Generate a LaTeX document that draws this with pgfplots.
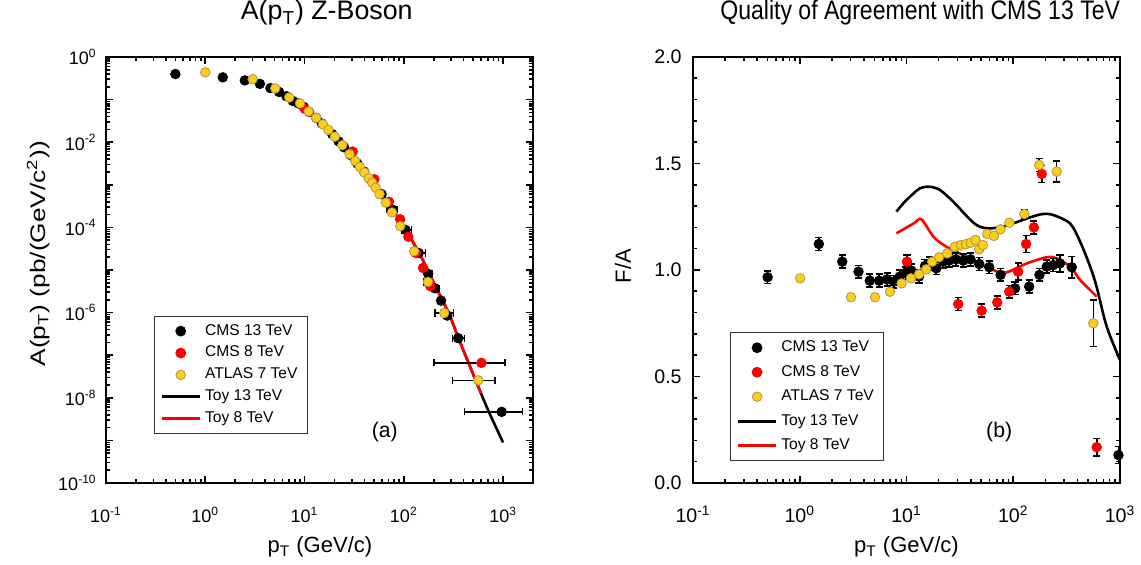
\documentclass[border=0pt]{standalone}
\usepackage{fontspec}
\setmainfont{Liberation Sans}
\usepackage{graphicx}
\usepackage{pgfplots}
\pgfplotsset{compat=1.18}
\definecolor{atlasY}{RGB}{252,206,22}
\definecolor{atlasE}{RGB}{175,150,80}
\definecolor{cmsR}{RGB}{255,0,0}

\pgfplotsset{
  common/.style={
    scale only axis, width=213.5pt, height=213pt, anchor=south west,
    axis line style={line width=1.1pt},
    every tick/.style={black, line width=0.8pt},
    major tick length=3.5pt, minor tick length=2.2pt,
    tick align=inside, xtick pos=both, ytick pos=both,
    legend cell align=left,
    legend image code/.code={\draw[mark repeat=2,mark phase=2,##1] plot coordinates {(0pt,0pt) (9.5pt,0pt) (19pt,0pt)};},
    legend style={font=\fontsize{7.8}{9}\selectfont, draw=black!80, line width=0.6pt, inner xsep=3pt, inner ysep=2pt, anchor=north west},
    xticklabel style={anchor=base, yshift=-20pt},
    tick label style={font=\fontsize{9}{10}\selectfont},
    xlabel style={anchor=base, font=\fontsize{11}{13}\selectfont},
    title style={anchor=base, font=\fontsize{13.4}{15}\selectfont},
    error bars/error bar style={line width=0.8pt, black},
    error bars/error mark options={rotate=90, line width=0.8pt, black, mark size=1.8pt},
  },
  blk/.style={only marks, mark=*, mark size=2.4pt, mark options={fill=black, draw=black}},
  red/.style={only marks, mark=*, mark size=2.4pt, mark options={fill=cmsR, draw=cmsR}},
  yel/.style={only marks, mark=*, mark size=2.4pt, mark options={fill=atlasY, draw=atlasE, line width=0.4pt}},
}

\begin{document}
\begin{tikzpicture}
\useasboundingbox (0pt,0pt) rectangle (570.5pt,282.5pt);
%%%%%%%%%%%%%%%% LEFT %%%%%%%%%%%%%%%%
\begin{axis}[common, at={(53pt,41pt)},
  xmode=log, ymode=log,
  xmin=0.1, xmax=2000, ymin=1e-10, ymax=1,
  xtick={0.1,1,10,100,1000},
  xticklabels={10\textsuperscript{-1},10\textsuperscript{0},10\textsuperscript{1},10\textsuperscript{2},10\textsuperscript{3}},
  minor xtick={0.2,0.3,0.4,0.5,0.6,0.7,0.8,0.9,2,3,4,5,6,7,8,9,20,30,40,50,60,70,80,90,200,300,400,500,600,700,800,900,2000},
  ytick={1e-10,1e-9,1e-8,1e-7,1e-6,1e-5,1e-4,1e-3,1e-2,1e-1,1},
  yticklabels={10\textsuperscript{-10},,10\textsuperscript{-8},,10\textsuperscript{-6},,10\textsuperscript{-4},,10\textsuperscript{-2},,10\textsuperscript{0}},
  minor ytick={2e-10,3e-10,4e-10,5e-10,6e-10,7e-10,8e-10,9e-10,
    2e-9,3e-9,4e-9,5e-9,6e-9,7e-9,8e-9,9e-9,
    2e-8,3e-8,4e-8,5e-8,6e-8,7e-8,8e-8,9e-8,
    2e-7,3e-7,4e-7,5e-7,6e-7,7e-7,8e-7,9e-7,
    2e-6,3e-6,4e-6,5e-6,6e-6,7e-6,8e-6,9e-6,
    2e-5,3e-5,4e-5,5e-5,6e-5,7e-5,8e-5,9e-5,
    2e-4,3e-4,4e-4,5e-4,6e-4,7e-4,8e-4,9e-4,
    2e-3,3e-3,4e-3,5e-3,6e-3,7e-3,8e-3,9e-3,
    2e-2,3e-2,4e-2,5e-2,6e-2,7e-2,8e-2,9e-2,
    0.2,0.3,0.4,0.5,0.6,0.7,0.8,0.9},
  yticklabel style={anchor=east, inner sep=0pt, xshift=-4.5pt},
  xlabel={p\textsubscript{T} (GeV/c)},
  xlabel style={at={(axis description cs:0.501,-0.164)}},
  ylabel={\scalebox{1.25}[1]{A(p\textsubscript{T}) (pb/(GeV/c\textsuperscript{2}))}},
  ylabel style={at={(axis description cs:-0.159,0.538)}, anchor=center, font=\fontsize{10.5}{12}\selectfont},
  title={A(p\textsubscript{T}) Z-Boson},
  title style={at={(axis description cs:0.517,1.059)}},
  legend style={at={(0.112,0.393)}},
]
% toy lines
\addplot[black, line width=1.3pt, smooth, forget plot] coordinates {
(8,0.0871) (10,0.0631) (15,0.0263) (20,0.0135) (30,0.00479) (40,0.002) (50,0.00105)
(70,3.55e-4) (100,1.05e-4) (150,2.0e-5) (200,5.0e-6) (250,1.78e-6) (300,7.08e-7)
(355,2.51e-7) (500,3.55e-8) (700,5.37e-9) (1000,8.91e-10)};
\addplot[cmsR, line width=1.3pt, smooth, forget plot] coordinates {
(8,0.0871) (10,0.0631) (15,0.0263) (20,0.0135) (30,0.00479) (40,0.002) (50,0.00105)
(70,3.55e-4) (100,1.05e-4) (150,2.0e-5) (200,5.0e-6) (250,1.78e-6) (300,7.08e-7)
(355,2.51e-7) (500,3.55e-8) (600,1.26e-8)};
% CMS 13 TeV
\addplot[blk, error bars/.cd, x dir=both, x explicit] coordinates {
(0.5,0.398) (1.5,0.333) (2.5,0.282) (3.55,0.234) (4.53,0.186) (5.54,0.151) (6.58,0.120)
(7.6,0.0933) (8.65,0.0813) (9.8,0.0676) (11.1,0.0513) (13.1,0.0372) (14.9,0.0275)
(19,0.0155) (22,0.0105) (25,0.00759) (29,0.00501) (34,0.00316) (39.8,0.00204) (48,0.00117)
(59.6,6.03e-4) += (5.4,0) -= (4.6,0)
(76,2.63e-4) += (9,0) -= (8,0)
(104,8.71e-5) += (16,0) -= (9,0)
(141,2.51e-5) += (24,0) -= (16,0)
(176,8.13e-6) += (19,0) -= (11,0)
(206,3.72e-6) += (19,0) -= (11,0)
(237,1.91e-6) += (18,0) -= (12,0)
(274,8.51e-7) += (26,0) -= (19,0)
(353,2.51e-7) += (55,0) -= (43,0)
(967,4.68e-9) += (600,0) -= (560,0)};
\addlegendentry{CMS 13 TeV}
% CMS 8 TeV
\addplot[red, error bars/.cd, x dir=both, x explicit] coordinates {
(10.1,0.0603) (30.5,0.00603) (50.5,0.00135) (70.8,3.98e-4) (91.8,1.55e-4)
(111,6.03e-5) (132,2.51e-5) (156,1.12e-5) (185,4.17e-6)
(605,6.61e-8) += (445,0) -= (405,0)};
\addlegendentry{CMS 8 TeV}
% ATLAS 7 TeV
\addplot[yel, error bars/.cd, x dir=both, x explicit] coordinates {
(1.0,0.437) (3.0,0.302) (5.06,0.183) (7.0,0.112) (9.0,0.0813) (11.0,0.0525) (13.1,0.0372)
(15.3,0.0263) (17.4,0.0195) (20.2,0.0135) (24,0.00851) (28.4,0.00525) (32.3,0.00363)
(36,0.00263) (40,0.00195) (44.4,0.00141) (48,0.00112) (52,8.51e-4) (57,6.03e-4)
(66,3.80e-4) (76,2.24e-4) (92,1.07e-4)
(127,2.75e-5) += (8,0) -= (7,0)
(175,5.25e-6) += (15,0) -= (15,0)
(255,9.77e-7) += (61,0) -= (49,0)
(562,2.57e-8) += (268,0) -= (253,0)};
\addlegendentry{ATLAS 7 TeV}
\addlegendimage{black, line width=1.3pt}
\addlegendentry{Toy 13 TeV}
\addlegendimage{cmsR, line width=1.3pt}
\addlegendentry{Toy 8 TeV}
\node[font=\fontsize{10.6}{12}\selectfont] at (rel axis cs:0.653,0.12) {(a)};
\end{axis}
%%%%%%%%%%%%%%%% RIGHT %%%%%%%%%%%%%%%%
\begin{axis}[common, at={(346.5pt,41pt)},
  xmode=log,
  xmin=0.1, xmax=1000, ymin=0, ymax=2,
  xtick={0.1,1,10,100,1000},
  xticklabels={10\textsuperscript{-1},10\textsuperscript{0},10\textsuperscript{1},10\textsuperscript{2},10\textsuperscript{3}},
  minor xtick={0.2,0.3,0.4,0.5,0.6,0.7,0.8,0.9,2,3,4,5,6,7,8,9,20,30,40,50,60,70,80,90,200,300,400,500,600,700,800,900},
  ytick={0,0.5,1,1.5,2},
  yticklabels={0.0,0.5,1.0,1.5,2.0},
  minor y tick num=4,
  yticklabel style={anchor=east, inner sep=0pt, xshift=-5.5pt, font=\fontsize{9.8}{11}\selectfont},
  xticklabel style={font=\fontsize{9.8}{11}\selectfont},
  xlabel={p\textsubscript{T} (GeV/c)},
  xlabel style={at={(axis description cs:0.5,-0.164)}},
  ylabel={F/A},
  ylabel style={at={(axis description cs:-0.164,0.509)}, anchor=center, font=\fontsize{11}{13}\selectfont},
  title={\scalebox{0.86}[1]{Quality of Agreement with CMS 13 TeV}},
  title style={at={(axis description cs:0.532,1.059)}},
  legend style={at={(0.087,0.354)}, row sep=1.3pt},
]
\addplot[black, line width=1.3pt, smooth, forget plot] coordinates {
(8.05,1.274) (9.64,1.321) (11.5,1.357) (13.3,1.383) (16.3,1.391) (20.5,1.376) (27.4,1.321)
(36.5,1.254) (45.3,1.211) (56,1.196) (75,1.200) (100,1.219) (144,1.247) (190,1.263)
(237,1.258) (340,1.219) (423,1.133) (525,1.016) (603,0.922) (751,0.734) (1000,0.577)};
\addplot[cmsR, line width=1.3pt, smooth, forget plot] coordinates {
(8.05,1.172) (11.7,1.219) (13.8,1.238) (17.9,1.156) (23.7,1.109) (36.5,1.062) (60,1.008)
(83.5,0.987) (134,1.031) (206,1.060) (255,1.055) (340,1.016) (423,0.953) (525,0.906) (605,0.875)};
% CMS 13 TeV
\addplot[blk, error bars/.cd, y dir=both, y explicit] coordinates {
(0.50,0.966) +- (0,0.03) (1.51,1.122) +- (0,0.03) (2.5,1.039) +- (0,0.03)
(3.55,0.992) +- (0,0.03) (4.53,0.950) +- (0,0.03) (5.54,0.950) +- (0,0.03)
(6.58,0.956) +- (0,0.03) (7.6,0.945) +- (0,0.03) (8.65,0.969) +- (0,0.03)
(9.8,0.985) +- (0,0.03) (11.1,0.997) +- (0,0.03) (13.1,0.969) +- (0,0.03)
(14.9,1.019) +- (0,0.03) (16.5,1.03) +- (0,0.03) (19,1.008) +- (0,0.03)
(22,1.039) +- (0,0.03) (25,1.044) +- (0,0.03) (29,1.050) +- (0,0.03)
(34,1.044) +- (0,0.03) (39.8,1.050) +- (0,0.03) (48,1.028) +- (0,0.03)
(59.6,1.013) +- (0,0.03) (76,0.977) +- (0,0.03) (104,0.914) +- (0,0.03)
(141,0.922) +- (0,0.03) (176,0.977) +- (0,0.03) (206,1.016) +- (0,0.03)
(237,1.023) +- (0,0.03) (274,1.031) +- (0,0.04) (353,1.013) +- (0,0.05)
(967,0.131) +- (0,0.04)};
\addlegendentry{CMS 13 TeV}
\addplot[red, error bars/.cd, y dir=both, y explicit] coordinates {
(10.1,1.039) +- (0,0.03) (30.5,0.840) +- (0,0.03) (50.5,0.809) +- (0,0.03)
(70.8,0.848) +- (0,0.03) (91.8,0.898) +- (0,0.03) (111,0.992) +- (0,0.04)
(132,1.122) +- (0,0.04) (156,1.200) +- (0,0.03) (185,1.451) +- (0,0.04)
(605,0.168) +- (0,0.04)};
\addlegendentry{CMS 8 TeV}
\addplot[yel, error bars/.cd, y dir=both, y explicit] coordinates {
(1.01,0.961) (3.02,0.872) (5.07,0.872) (7.0,0.898) (9.0,0.937) (11.0,0.961) (13.1,0.980)
(15.3,1.003) (17.4,1.039) (20.2,1.060) (24,1.078) (28.4,1.109) (32.3,1.117) (36,1.121)
(40,1.128) (44.4,1.141) (48,1.097) (52,1.117) (57,1.169) (66,1.160) (76,1.191) (92,1.222)
(127,1.263) +- (0,0.02) (175,1.493) +- (0,0.03) (255,1.462) +- (0,0.05) (562,0.750) +- (0,0.11)};
\addlegendentry{ATLAS 7 TeV}
\addlegendimage{black, line width=1.3pt}
\addlegendentry{Toy 13 TeV}
\addlegendimage{cmsR, line width=1.3pt}
\addlegendentry{Toy 8 TeV}
\node[font=\fontsize{10.6}{12}\selectfont] at (rel axis cs:0.717,0.12) {(b)};
\end{axis}
\end{tikzpicture}
\end{document}
